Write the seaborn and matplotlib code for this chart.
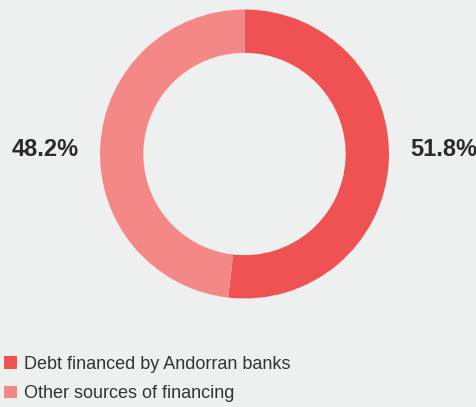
import matplotlib
matplotlib.use("Agg")
import matplotlib.pyplot as plt
from matplotlib.patches import Patch
import seaborn as sns

labels = ["Debt financed by Andorran banks", "Other sources of financing"]
shares = [51.8, 48.2]
colours = ["#f05254", "#f48886"]
bg = "#eef0ef"

sns.set_theme(style="white")
plt.rcParams['font.family'] = ['Liberation Sans', 'DejaVu Sans']

fig = plt.figure(figsize=(4.77, 4.07), dpi=100, facecolor=bg)
ax = fig.add_axes([100 / 477, 108.5 / 407, 289 / 477, 289 / 407])
ax.set_facecolor(bg)

wedges, _ = ax.pie(shares, colors=colours, startangle=90, counterclock=False,
                   radius=1.0, wedgeprops=dict(width=0.3, linewidth=0))
ax.set_aspect("equal")
ax.set_xlim(-1, 1)
ax.set_ylim(-1, 1)
ax.axis("off")

# percentage labels either side of the ring
fig.text(45 / 477, 1 - 149 / 407, f"{shares[1]:.1f}%", ha="center", va="center",
         fontsize=17, fontweight="bold", color="#2b2b2b")
fig.text(444 / 477, 1 - 149 / 407, f"{shares[0]:.1f}%", ha="center", va="center",
         fontsize=17, fontweight="bold", color="#2b2b2b")

handles = [Patch(facecolor=c, edgecolor="none") for c in colours]
leg = fig.legend(handles, labels, loc="upper left", bbox_to_anchor=(4 / 477, 1 - 356 / 407),
                 frameon=False, fontsize=13, handlelength=0.72, handleheight=0.72,
                 handletextpad=0.4, labelspacing=0.68, borderaxespad=0, borderpad=0.0)
for t in leg.get_texts():
    t.set_color("#333333")

fig.savefig("out.png", dpi=100, facecolor=bg)
